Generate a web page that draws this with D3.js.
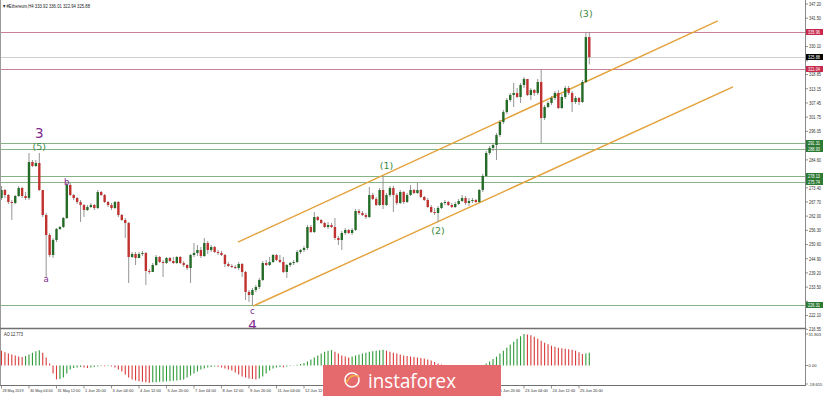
<!DOCTYPE html>
<html>
<head>
<meta charset="utf-8">
<script src="https://cdn.jsdelivr.net/npm/d3@7"></script>
<style>
  body { margin: 0; background: #fff; }
  svg { display: block; font-family: "Liberation Sans", Arial, sans-serif; }
</style>
</head>
<body>
<div id="chart"></div>
<script>
// #Ethereum H4 candles, 28 May 20:00 -> 26 Jun 08:00 (bar index 0..171)
var closes = [
  272.50,270.49,267.68,267.28,270.09,273.30,270.09,269.28,283.74,282.14,
  283.34,272.50,262.46,254.43,246.39,252.42,256.84,257.64,261.25,274.51,
  270.49,269.28,267.68,266.47,264.47,265.67,266.47,265.27,271.69,270.49,
  267.68,266.47,265.27,267.68,262.46,260.45,259.25,245.59,246.80,245.19,
  246.80,247.20,239.97,239.57,242.38,245.59,243.58,243.18,245.19,243.98,
  243.18,245.59,243.18,242.38,241.17,246.39,247.20,248.40,245.99,251.21,
  248.40,249.61,247.60,247.20,246.39,242.78,241.98,241.57,241.17,242.78,
  239.57,231.53,230.33,232.34,233.54,236.35,243.18,242.38,243.58,246.39,
  244.39,243.58,239.57,242.38,243.18,243.58,247.60,248.40,249.20,257.64,
  255.63,261.66,260.45,259.25,257.64,258.44,257.64,253.22,252.42,255.23,
  256.43,255.23,256.43,264.06,263.26,262.46,261.66,270.49,268.88,266.47,
  272.50,266.47,270.49,273.30,270.49,267.28,271.69,267.68,270.49,272.50,
  271.29,272.50,269.69,268.48,265.67,263.66,263.26,265.27,267.28,267.68,
  266.47,265.67,266.87,268.08,269.28,267.28,268.08,268.48,267.68,272.50,
  278.13,287.36,289.37,290.57,294.59,299.81,303.82,308.65,310.65,311.46,
  309.85,314.67,317.08,310.65,312.66,311.46,315.87,301.42,305.83,307.44,
  309.45,311.46,305.43,309.85,313.47,311.46,307.84,309.45,307.84,315.87,
  333.92,325.88
];
var highs = [
  274.11,272.90,270.89,268.48,270.49,274.11,273.71,271.69,287.36,284.55,
  284.55,287.36,272.50,263.26,255.23,253.22,257.24,258.04,261.66,275.71,
  275.31,270.89,269.69,268.48,266.87,266.47,267.28,266.87,272.50,272.10,
  270.89,268.08,267.28,268.08,268.08,262.86,261.25,259.65,247.60,247.60,
  247.60,248.00,247.60,240.77,243.18,246.39,245.99,244.39,245.59,245.59,
  245.59,245.99,245.99,243.98,242.78,246.80,251.21,250.41,249.61,253.22,
  252.02,250.41,250.01,248.40,248.00,246.80,243.58,242.78,242.38,243.58,
  243.18,239.97,232.34,233.14,234.35,237.16,243.98,244.39,245.59,246.80,
  246.80,246.39,245.59,242.78,243.58,244.39,248.40,248.80,250.01,258.44,
  258.44,263.66,262.06,260.85,259.65,259.65,259.25,261.25,254.02,256.03,
  257.24,256.84,257.24,264.87,264.87,264.06,263.26,273.71,271.29,269.69,
  273.30,278.13,271.29,274.11,274.11,271.29,272.50,272.10,271.29,274.51,
  272.90,275.31,272.90,270.09,269.28,266.47,265.27,266.07,267.68,268.48,
  268.08,267.28,267.68,268.88,270.49,270.09,269.28,269.28,268.88,272.90,
  278.93,288.16,290.17,291.37,295.39,300.61,304.63,309.45,311.46,315.47,
  313.47,315.47,317.88,317.08,313.47,313.06,317.08,321.04,306.64,308.24,
  310.25,312.26,312.66,311.06,314.27,314.27,312.26,310.25,309.85,316.68,
  335.96,336.01
];
var lows = [
  268.48,269.28,266.87,260.45,266.87,269.69,269.28,268.48,268.48,281.74,
  281.74,272.10,261.66,237.56,245.59,245.19,251.61,256.43,257.24,260.85,
  270.09,268.48,266.87,259.65,261.66,264.06,265.27,264.47,264.87,270.09,
  267.28,265.67,264.47,264.87,261.66,260.05,253.22,235.15,245.19,242.38,
  245.19,245.99,234.35,238.76,239.57,241.98,243.18,237.56,242.78,243.58,
  242.78,242.78,242.78,241.57,240.37,235.15,245.59,245.99,245.19,245.59,
  246.80,247.60,247.20,246.39,245.99,241.57,241.57,241.17,240.77,240.37,
  237.56,228.32,227.52,226.20,231.53,232.74,235.95,241.98,241.98,243.18,
  243.98,243.18,239.17,237.16,241.57,242.38,243.18,246.80,247.60,248.40,
  255.23,255.23,260.05,258.84,257.24,256.84,257.24,252.42,250.41,248.40,
  254.43,254.83,254.43,256.03,262.46,262.06,260.85,261.25,268.48,266.07,
  266.07,264.87,266.07,269.69,263.66,266.47,266.87,266.87,267.28,270.09,
  270.89,270.89,269.28,268.08,265.27,263.26,262.46,259.65,264.87,266.47,
  266.07,265.27,265.27,266.47,267.68,266.47,266.07,267.28,267.28,267.28,
  271.69,277.72,286.56,288.16,284.55,293.79,299.01,303.02,307.84,305.83,
  309.45,307.44,313.47,310.25,308.65,310.25,310.65,291.37,300.61,305.43,
  306.64,308.65,305.03,305.03,309.05,310.65,303.82,307.04,306.64,307.44,
  315.47,322.94
];
// 24/7 market: every bar opens at the previous close
var firstOpen = 269.28;
var opens = [firstOpen].concat(closes.slice(0, -1));

// Awesome Oscillator histogram, one value per bar
var aoValues = [
  15,13.5,12,11,10,9,8.5,9.5,11,13,
  14.5,15.5,13,8,2,-8,-14,-13.5,-12,-8,
  -4,-2.5,-2,-1.5,-2,-2.5,-2,-1.5,-1,-0.5,
  -0.8,-0.5,-1,-2,-4,-6,-9,-12,-14,-15,
  -16,-16.5,-17,-17.5,-17,-16.8,-16.5,-16.3,-16,-15.8,
  -15.5,-15,-14.5,-14,-12,-10,-8,-6,-4,-3,
  -2,-1.5,-1,-1.2,-2,-3,-4,-5,-7,-9,
  -11,-12,-13,-13.5,-14,-13,-11,-8,-5,-3,
  -2,-1.5,-1.8,-1,-0.5,0.3,0.8,1.5,2.5,4,
  6,8,10,12,14,15,15.5,14,12,10,
  9,8,9,10,11,12,13,14,14.5,15,
  15.5,16,15,14,13,12,11,10,9.5,9,
  8.5,8,7.5,7,6,5,3.5,2,1,-1,
  -2,-3,-3.5,-4,-3.8,-3.5,-3,-2.5,-2,-1,
  0.5,2,4,6.5,9,12,15,18,21,24,
  27,29.5,31.8,31.3,30.5,29,27,25,23,21.5,
  20,19,18,17.5,17,16.5,16,15,13.5,11.5,
  12,12.773
];

// horizontal levels
var redLevels = [335.96, 321.04];
var greenLevels = [291.31, 288.93, 278.13, 275.74, 226.31];
var lastPrice = 325.88;

// price channel: [bar index, price] end points
var channelUpper = [[68.8, 251.6], [208.4, 340.4]];
var channelLower = [[73.2, 225.9], [212.8, 313.9]];

// Elliott wave marks
var waveText  = ["3", "(5)", "a", "b", "c", "4", "(1)", "(2)", "(3)"];
var waveBar   = [11, 11, 13, 19, 73, 73, 112, 127, 170];
var wavePrice = [295.4, 289.8, 236.8, 275.9, 223.7, 218.3, 282.3, 256.4, 343.3];
var waveKind  = ["major", "minor", "sub", "sub", "sub", "major", "minor", "minor", "minor"];

// axis labels
var priceTicks = [347.20, 341.50, 335.80, 330.10, 324.40, 318.85, 313.15, 307.45, 301.75,
  296.05, 290.35, 284.60, 278.90, 273.40, 267.70, 262.00, 256.30, 250.60, 244.90,
  239.20, 233.50, 227.80, 222.10, 216.55];
var aoTicks = [31.803, 0, -18.655];
var aoTickLabels = ["31.803", "0.00", "-18.655"];
var timeTickBars = [0, 8, 16, 24, 32, 40, 48, 56, 64, 72, 80, 88, 96, 104, 112, 120,
  128, 136, 144, 152, 160, 168];
var timeTickLabels = ["28 May 2019", "30 May 04:00", "31 May 12:00", "1 Jun 20:00",
  "3 Jun 04:00", "4 Jun 12:00", "5 Jun 20:00", "7 Jun 04:00", "8 Jun 12:00",
  "9 Jun 20:00", "11 Jun 04:00", "12 Jun 12:00", "13 Jun 20:00", "15 Jun 04:00",
  "16 Jun 12:00", "17 Jun 20:00", "19 Jun 04:00", "20 Jun 12:00", "21 Jun 20:00",
  "23 Jun 04:00", "24 Jun 12:00", "25 Jun 20:00"];

var svgWidth = 823;
var svgHeight = 396;
var axisX = 805;
var mainBottom = 328;
var aoBottom = 385.5;
var charW = 2.0;   // the terminal's tiny axis font is very narrow
var bannerBox = { x: 323, y: 365, w: 178, h: 31 };

var svg = d3.select("#chart")
  .append("svg")
  .attr("width", svgWidth)
  .attr("height", svgHeight);

var xScale = d3.scaleLinear().domain([0, 171]).range([1.5, 589.3]);
var yScale = d3.scaleLinear().domain([216.55, 347.20]).range([329.3, 4]);
var aoScale = d3.scaleLinear().domain([-18.655, 31.803]).range([384, 334]);

var greenCandle = "#236b27";
var redCandle = "#c0322f";
var purple = "#7f2a8c";
var waveGreen = "#3d8a45";

svg.append("clipPath").attr("id", "mainClip")
  .append("rect").attr("x", 0).attr("y", 0).attr("width", axisX).attr("height", mainBottom);

var main = svg.append("g").attr("clip-path", "url(#mainClip)");

// level lines
main.selectAll(".gl").data(greenLevels).enter().append("line")
  .attr("x1", 0).attr("x2", axisX)
  .attr("y1", d => Math.round(yScale(d)) + 0.5).attr("y2", d => Math.round(yScale(d)) + 0.5)
  .attr("stroke", "#86b386").attr("stroke-width", 1);

main.selectAll(".rl").data(redLevels).enter().append("line")
  .attr("x1", 0).attr("x2", axisX)
  .attr("y1", d => Math.round(yScale(d)) + 0.5).attr("y2", d => Math.round(yScale(d)) + 0.5)
  .attr("stroke", "#c9819a").attr("stroke-width", 1);

main.append("line")
  .attr("x1", 0).attr("x2", axisX)
  .attr("y1", Math.round(yScale(lastPrice)) + 0.5).attr("y2", Math.round(yScale(lastPrice)) + 0.5)
  .attr("stroke", "#d0d0d0").attr("stroke-width", 1);

// channel
[channelUpper, channelLower].forEach(function(pts) {
  main.append("line")
    .attr("x1", xScale(pts[0][0])).attr("y1", yScale(pts[0][1]))
    .attr("x2", xScale(pts[1][0])).attr("y2", yScale(pts[1][1]))
    .attr("stroke", "#e3a23a").attr("stroke-width", 1.4);
});

// candles
var bars = d3.range(closes.length);
main.selectAll(".wick").data(bars).enter().append("line")
  .attr("x1", i => xScale(i)).attr("x2", i => xScale(i))
  .attr("y1", i => yScale(highs[i])).attr("y2", i => yScale(lows[i]))
  .attr("stroke", "#8a8a8a").attr("stroke-width", 0.9);

main.selectAll(".body").data(bars).enter().append("rect")
  .attr("x", i => xScale(i) - 1.2)
  .attr("width", 2.4)
  .attr("y", i => yScale(Math.max(opens[i], closes[i])))
  .attr("height", i => Math.max(1, Math.abs(yScale(opens[i]) - yScale(closes[i]))))
  .attr("fill", i => closes[i] >= opens[i] ? greenCandle : redCandle);

// wave labels
var waveStyle = {
  major: { size: 13.5, color: purple },
  minor: { size: 9.5, color: waveGreen },
  sub: { size: 8.5, color: purple }
};
main.selectAll(".wave").data(waveText).enter().append("text")
  .attr("x", (d, i) => xScale(waveBar[i]))
  .attr("y", (d, i) => yScale(wavePrice[i]))
  .attr("text-anchor", "middle")
  .attr("dominant-baseline", "central")
  .attr("font-family", "'DejaVu Sans', sans-serif")
  .attr("font-size", (d, i) => waveStyle[waveKind[i]].size)
  .attr("fill", (d, i) => waveStyle[waveKind[i]].color)
  .text(d => d);

// header
svg.append("text")
  .attr("x", 3).attr("y", 8)
  .attr("font-size", 5.5).attr("fill", "#222")
  .attr("textLength", 87).attr("lengthAdjust", "spacingAndGlyphs")
  .text("\u25BE #Ethereum,H4  333.92 336.01 322.94 325.88");

// AO panel
var aoZero = aoScale(0);
svg.selectAll(".ao").data(bars).enter().append("line")
  .attr("x1", i => xScale(i)).attr("x2", i => xScale(i))
  .attr("y1", aoZero).attr("y2", i => aoScale(aoValues[i]))
  .attr("stroke", i => (i > 0 && aoValues[i] > aoValues[i - 1]) ? "#2f9a3a" : "#d93a3a")
  .attr("stroke-width", 1.1);

svg.append("text")
  .attr("x", 4).attr("y", 336)
  .attr("font-size", 5.5).attr("fill", "#222")
  .attr("textLength", 19).attr("lengthAdjust", "spacingAndGlyphs")
  .text("AO 12.773");

// frames
svg.append("line").attr("x1", 0.5).attr("x2", 0.5).attr("y1", 0).attr("y2", aoBottom)
  .attr("stroke", "#9a9a9a");
svg.append("line").attr("x1", axisX + 0.5).attr("x2", axisX + 0.5).attr("y1", 0).attr("y2", aoBottom)
  .attr("stroke", "#8a8a8a");
svg.append("line").attr("x1", 0).attr("x2", axisX + 1).attr("y1", mainBottom + 0.5).attr("y2", mainBottom + 0.5)
  .attr("stroke", "#707070").attr("stroke-width", 1.5);
svg.append("line").attr("x1", 0).attr("x2", axisX + 1).attr("y1", aoBottom).attr("y2", aoBottom)
  .attr("stroke", "#707070").attr("stroke-width", 1.2);

// price axis; labels sitting under a price tag are hidden by it, so skip them
var tagValues = redLevels.concat(greenLevels, [lastPrice]);
var freeTicks = priceTicks.filter(function(t) {
  return tagValues.every(v => Math.abs(yScale(v) - yScale(t)) > 5);
});
var axisG = svg.append("g").attr("font-size", 5).attr("fill", "#333");
axisG.selectAll(".pt").data(priceTicks).enter().append("line")
  .attr("x1", axisX).attr("x2", axisX + 3)
  .attr("y1", d => yScale(d)).attr("y2", d => yScale(d))
  .attr("stroke", "#777").attr("stroke-width", 0.8);
axisG.selectAll(".ptl").data(freeTicks).enter().append("text")
  .attr("x", axisX + 4).attr("y", d => yScale(d) + 1.8)
  .attr("textLength", 6 * charW).attr("lengthAdjust", "spacingAndGlyphs")
  .text(d => d.toFixed(2));

axisG.selectAll(".at").data(aoTicks).enter().append("line")
  .attr("x1", axisX).attr("x2", axisX + 3)
  .attr("y1", d => aoScale(d)).attr("y2", d => aoScale(d))
  .attr("stroke", "#777").attr("stroke-width", 0.8);
axisG.selectAll(".atl").data(aoTicks).enter().append("text")
  .attr("x", axisX + 3.5).attr("y", d => aoScale(d) + 1.6)
  .attr("font-size", 4.1)
  .text((d, i) => aoTickLabels[i]);

// price tags on axis
function tag(value, fill) {
  var yy = Math.round(yScale(value));
  svg.append("rect").attr("x", axisX + 1).attr("y", yy - 3).attr("width", 17).attr("height", 6)
    .attr("fill", fill);
  svg.append("text").attr("x", axisX + 3).attr("y", yy + 1.7)
    .attr("font-size", 4.6).attr("fill", "#fff")
    .attr("textLength", 6 * charW).attr("lengthAdjust", "spacingAndGlyphs")
    .text(value.toFixed(2));
}
redLevels.forEach(v => tag(v, "#c8284c"));
greenLevels.forEach(v => tag(v, "#2d7a34"));
tag(lastPrice, "#000");

// time axis (labels lying wholly under the watermark are not visible, skip them)
var timeKeys = d3.range(timeTickBars.length).filter(function(k) {
  var x0 = xScale(timeTickBars[k]) + 1;
  var x1 = x0 + timeTickLabels[k].length * 1.95;
  return !(x0 > bannerBox.x && x1 < bannerBox.x + bannerBox.w);
});
var timeG = svg.append("g").attr("font-size", 4.2).attr("fill", "#333");
timeG.selectAll(".tt").data(timeTickBars).enter().append("line")
  .attr("x1", i => xScale(i)).attr("x2", i => xScale(i))
  .attr("y1", aoBottom).attr("y2", aoBottom + 3)
  .attr("stroke", "#777").attr("stroke-width", 0.8);
timeG.selectAll(".ttl").data(timeKeys).enter().append("text")
  .attr("x", k => xScale(timeTickBars[k]) + 1).attr("y", 392)
  .attr("textLength", k => timeTickLabels[k].length * 1.9).attr("lengthAdjust", "spacingAndGlyphs")
  .text(k => timeTickLabels[k]);

// watermark banner
var banner = svg.append("g");
banner.append("rect")
  .attr("x", bannerBox.x).attr("y", bannerBox.y).attr("width", bannerBox.w).attr("height", bannerBox.h)
  .attr("fill", "#e46a6d");
banner.append("circle").attr("cx", 352).attr("cy", 380).attr("r", 7)
  .attr("fill", "none").attr("stroke", "#fff").attr("stroke-width", 1.6);
banner.append("path").attr("d", "M346,383 Q352,372 359,377")
  .attr("fill", "none").attr("stroke", "#f5b04a").attr("stroke-width", 1.6);
banner.append("text")
  .attr("x", 368).attr("y", 388)
  .attr("font-family", "'Open Sans', sans-serif")
  .attr("font-size", 20).attr("fill", "#fff")
  .attr("textLength", 88).attr("lengthAdjust", "spacingAndGlyphs")
  .text("instaforex");
</script>
</body>
</html>
